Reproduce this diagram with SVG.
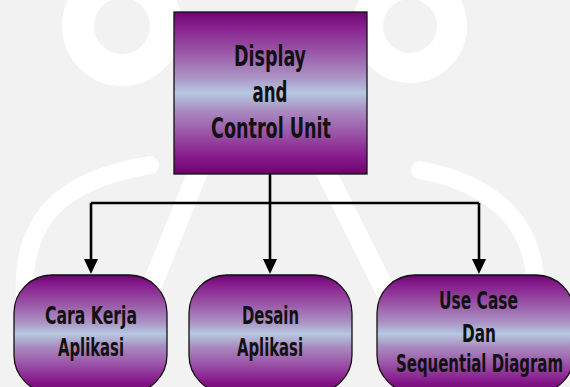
<svg xmlns="http://www.w3.org/2000/svg" width="570" height="387" viewBox="0 0 570 387">
  <defs>
    <style>
      .box { fill: url(#glow); stroke: #111; stroke-width: 1.3; }
      .label { font-family: "Liberation Sans Narrow", "DejaVu Sans Condensed", "Liberation Sans", sans-serif; font-weight: bold; fill: #111; text-anchor: middle; }
      .big { font-size: 28px; }
      .small { font-size: 24px; }
      .wire { fill: none; stroke: #000; stroke-width: 2.6; }
      .mark { fill: none; stroke: #fff; stroke-linecap: round; }
    </style>
    <linearGradient id="glow" x1="0" y1="0" x2="0" y2="1">
      <stop offset="0" stop-color="#6a066e"/>
      <stop offset="0.08" stop-color="#861c8c"/>
      <stop offset="0.25" stop-color="#9a58a8"/>
      <stop offset="0.4" stop-color="#aa92c4"/>
      <stop offset="0.5" stop-color="#b6c8e0"/>
      <stop offset="0.6" stop-color="#aa90c2"/>
      <stop offset="0.76" stop-color="#9a50a6"/>
      <stop offset="0.9" stop-color="#86188a"/>
      <stop offset="1" stop-color="#6c046c"/>
    </linearGradient>
    <marker id="head" viewBox="0 0 15 14" refX="3" refY="7" markerWidth="15" markerHeight="14" markerUnits="userSpaceOnUse" orient="auto">
      <path d="M0,0 L15,7 L0,14 Z" fill="#000"/>
    </marker>
  </defs>

  <!-- backdrop with faint emblem -->
  <rect x="0" y="0" width="570" height="387" fill="#f2f2f2"/>
  <g id="emblem" class="mark">
    <circle cx="122" cy="26" r="44" stroke-width="32"/>
    <circle cx="410" cy="26" r="42" stroke-width="30"/>
    <path d="M215 130 L150 290" stroke-width="20"/>
    <path d="M305 130 L385 290" stroke-width="20"/>
    <path d="M150 165 C60 180 20 220 25 300 C28 340 60 370 90 387" stroke-width="18"/>
    <path d="M420 170 C500 185 540 230 535 300 C532 340 505 370 480 387" stroke-width="18"/>
  </g>

  <g id="connectors">
    <path class="wire" d="M270 174 V262" marker-end="url(#head)"/>
    <path class="wire" d="M91 203 H479"/>
    <path class="wire" d="M91 203 V262" marker-end="url(#head)"/>
    <path class="wire" d="M479 203 V262" marker-end="url(#head)"/>
  </g>

  <g id="display-control">
    <rect class="box" x="174" y="12" width="193" height="162"/>
    <text class="label big" x="270" y="66" textLength="72" lengthAdjust="spacingAndGlyphs">Display</text>
    <text class="label big" x="270" y="102" textLength="35" lengthAdjust="spacingAndGlyphs">and</text>
    <text class="label big" x="271" y="138" textLength="120" lengthAdjust="spacingAndGlyphs">Control Unit</text>
  </g>

  <g id="cara-kerja">
    <rect class="box" x="14" y="275" width="153" height="118" rx="38" ry="38"/>
    <text class="label small" x="91" y="324" textLength="92" lengthAdjust="spacingAndGlyphs">Cara Kerja</text>
    <text class="label small" x="91" y="356" textLength="66" lengthAdjust="spacingAndGlyphs">Aplikasi</text>
  </g>

  <g id="desain">
    <rect class="box" x="189" y="275" width="163" height="118" rx="38" ry="38"/>
    <text class="label small" x="270.5" y="324" textLength="57" lengthAdjust="spacingAndGlyphs">Desain</text>
    <text class="label small" x="270" y="356" textLength="66" lengthAdjust="spacingAndGlyphs">Aplikasi</text>
  </g>

  <g id="use-case">
    <rect class="box" x="377" y="275" width="197" height="118" rx="38" ry="38"/>
    <text class="label small" x="478.5" y="309" textLength="79" lengthAdjust="spacingAndGlyphs">Use Case</text>
    <text class="label small" x="479" y="342" textLength="34" lengthAdjust="spacingAndGlyphs">Dan</text>
    <text class="label small" x="479.5" y="372" textLength="167" lengthAdjust="spacingAndGlyphs">Sequential Diagram</text>
  </g>
</svg>
